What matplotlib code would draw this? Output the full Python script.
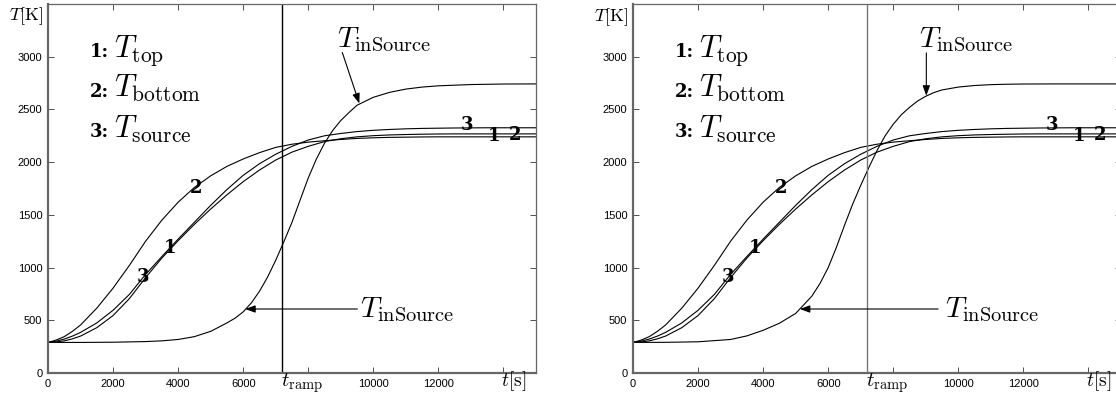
import matplotlib
matplotlib.use("Agg")
import matplotlib.pyplot as plt
import matplotlib.transforms as mtransforms

plt.rcParams['font.family'] = ['Liberation Sans', 'DejaVu Sans']
plt.rcParams['mathtext.fontset'] = 'cm'

# time grid [s] for the three wall/source temperatures
t = [0, 250, 500, 750, 1000, 1500, 2000, 2500, 3000, 3500, 4000, 4500, 5000, 5500, 6000, 6500,
     7000, 7500, 8000, 8500, 9000, 9500, 10000, 10500, 11000, 11500, 12000, 12500, 13000,
     13500, 14000, 14500, 15000]

# 1: T_top
T_top = [290, 294, 305, 324, 350, 430, 545, 705, 905, 1090, 1255, 1410, 1555, 1690, 1815, 1925,
         2020, 2095, 2150, 2195, 2222, 2240, 2251, 2258, 2262, 2265, 2267, 2268, 2268, 2268,
         2268, 2268, 2268]
# 2: T_bottom
T_bottom = [290, 312, 345, 395, 455, 615, 805, 1020, 1250, 1450, 1620, 1760, 1870, 1960, 2030,
            2090, 2140, 2170, 2190, 2203, 2215, 2225, 2231, 2235, 2237, 2239, 2240, 2240, 2240,
            2240, 2240, 2240, 2240]
# 3: T_source
T_source = [290, 302, 322, 350, 385, 475, 595, 745, 935, 1105, 1270, 1430, 1590, 1740, 1875,
            1985, 2075, 2150, 2210, 2250, 2272, 2290, 2302, 2310, 2316, 2320, 2322, 2324, 2325,
            2326, 2326, 2326, 2326]

# finer grid for T_inSource
t_in = [0, 1000, 2000, 3000, 3500, 4000, 4500, 5000, 5500, 5750, 6000, 6250, 6500, 6750, 7000,
        7250, 7500, 7750, 8000, 8250, 8500, 8750, 9000, 9250, 9500, 10000, 10500, 11000,
        11500, 12000, 13000, 14000, 15000]
T_in_left = [290, 290, 292, 298, 305, 318, 345, 395, 475, 520, 580, 665, 775, 910, 1070,
             1245, 1430, 1640, 1850, 2030, 2180, 2300, 2395, 2470, 2540, 2615, 2662, 2693,
             2712, 2724, 2736, 2741, 2742]
T_in_right = [290, 291, 296, 318, 352, 405, 472, 565, 730, 850, 1000, 1190, 1400, 1600, 1780,
              1950, 2110, 2250, 2360, 2450, 2520, 2580, 2625, 2660, 2685, 2712, 2727, 2735,
              2739, 2741, 2742, 2742, 2742]

t_ramp = 7200
xticks = [0, 2000, 4000, 6000, 8000, 10000, 12000, 14000]
xtick_labels = ['0', '2000', '4000', '6000', '', '10000', '12000', '']
yticks = [0, 500, 1000, 1500, 2000, 2500, 3000]

# curve number labels (x, y, text)
curve_labels = [(4564, 1752, '2'), (3744, 1183, '1'), (2923, 914, '3'),
                (12890, 2353, '3'), (13700, 2250, '1'), (14370, 2262, '2')]
legend_rows = [('1', 'top'), ('2', 'bottom'), ('3', 'source')]
legend_y = [2998, 2619, 2234]

# T_inSource annotations per panel
panels = [
    dict(T_in=T_in_left, vcol='k',
         top_text=(8880, 3090), top_from=(9046, 3040), top_to=(9570, 2556),
         bot_text=(9580, 530), bot_from=(9510, 607), bot_to=(6062, 607)),
    dict(T_in=T_in_right, vcol='#777777',
         top_text=(8780, 3090), top_from=(9016, 3036), top_to=(9016, 2630),
         bot_text=(9600, 530), bot_from=(9380, 607), bot_to=(5129, 607)),
]

fig = plt.figure(figsize=(11.16, 3.96), dpi=100)
axes = [fig.add_axes([48 / 1116, 23 / 396, 488 / 1116, 369 / 396]),
        fig.add_axes([633 / 1116, 23 / 396, 488 / 1116, 369 / 396])]

arrow = dict(arrowstyle='-|>,head_length=0.6,head_width=0.22', lw=0.8, color='k',
             shrinkA=0, shrinkB=0)
bold = dict(family='DejaVu Serif', weight='bold')

for ax, p in zip(axes, panels):
    lw = 0.8
    ax.plot(t, T_top, color='k', lw=lw)
    ax.plot(t, T_bottom, color='k', lw=lw)
    ax.plot(t, T_source, color='k', lw=lw)
    ax.plot(t_in, p['T_in'], color='k', lw=lw)
    ax.axvline(t_ramp, color=p['vcol'], lw=1.0)

    ax.set_xlim(0, 15000)
    ax.set_ylim(0, 3500)
    ax.set_xticks(xticks)
    ax.set_xticklabels(xtick_labels)
    ax.set_yticks(yticks)
    ax.tick_params(direction='in', top=True, right=True, length=4, width=0.6,
                   labelsize=8, pad=4, colors='#333333', labelcolor='black')
    for s in ax.spines.values():
        s.set_color('#666666')
        s.set_linewidth(0.9)
    ax.spines['bottom'].set_linewidth(1.6)
    ax.spines['left'].set_linewidth(1.6)

    trans = mtransforms.blended_transform_factory(ax.transData, ax.transAxes)
    ax.text(7820, -0.036, r'$t_{\mathrm{ramp}}$', transform=trans, ha='center',
            va='baseline', fontsize=15)
    ax.text(14300, -0.036, r'$t[\mathrm{s}]$', transform=trans, ha='center',
            va='baseline', fontsize=14)

    for x, y, s in curve_labels:
        ax.text(x, y, s, ha='center', va='center', fontsize=13, **bold)

    for (num, sub), y in zip(legend_rows, legend_y):
        ax.text(1292, y, num + ':', ha='left', va='baseline', fontsize=13, **bold)
        ax.text(2020, y, r'$T_{\mathrm{%s}}$' % sub, ha='left', va='baseline', fontsize=22)

    ax.text(*p['top_text'], r'$T_{\mathrm{inSource}}$', ha='left', va='baseline', fontsize=21)
    ax.annotate('', xy=p['top_to'], xytext=p['top_from'], arrowprops=arrow)
    ax.text(*p['bot_text'], r'$T_{\mathrm{inSource}}$', ha='left', va='baseline', fontsize=21)
    ax.annotate('', xy=p['bot_to'], xytext=p['bot_from'], arrowprops=arrow)

fig.text(26 / 1116, 1 - 16 / 396, r'$T[\mathrm{K}]$', ha='center', va='center', fontsize=13)
fig.text(611 / 1116, 1 - 17 / 396, r'$T[\mathrm{K}]$', ha='center', va='center', fontsize=13)

fig.savefig('out.png', dpi=100)
